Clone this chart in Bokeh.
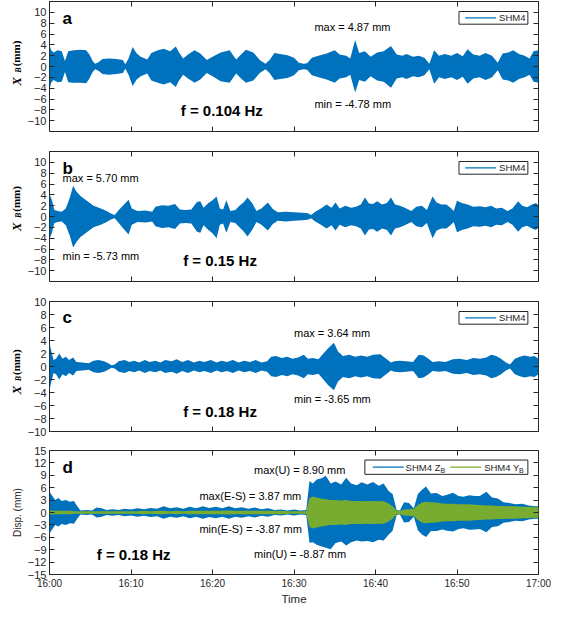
import math
from bokeh.plotting import figure
from bokeh.models import (Range1d, LinearAxis, FixedTicker, Label, BoxAnnotation,
                          ColumnDataSource, CustomJSTickFormatter)
from bokeh.layouts import column, row
from bokeh.embed import file_html
from bokeh.resources import INLINE

# ---------------- data ----------------
X_TICKS = [0, 10, 20, 30, 40, 50, 60]            # minutes after 16:00
X_TICK_LABELS = ["16:00", "16:10", "16:20", "16:30", "16:40", "16:50", "17:00"]
Y_TICKS_ABC = [-10, -8, -6, -4, -2, 0, 2, 4, 6, 8, 10]
Y_TICKS_D = [-15, -12, -9, -6, -3, 0, 3, 6, 9, 12, 15]

# panel a : envelope of SHM4 displacement (mm), f = 0.104 Hz
A_T = [0.0, 0.2, 0.5, 1.0, 1.5, 1.9, 2.3, 3.0, 3.8, 4.5,
       4.9, 5.3, 5.6, 6.0, 6.5, 7.3, 8.2, 9.0, 9.3, 9.7,
       10.2, 10.7, 11.2, 12.0, 12.5, 13.3, 14.0, 14.8, 15.5, 15.8,
       16.4, 17.0, 17.8, 18.5, 19.3, 20.0, 21.0, 22.1, 22.9, 23.5,
       24.1, 25.0, 25.8, 26.5, 27.0, 27.6, 28.3, 29.2, 30.0, 30.6,
       31.2, 31.6, 32.2, 33.0, 34.0, 35.0, 35.6, 36.4, 36.9, 37.5,
       38.0, 38.7, 39.4, 40.2, 41.0, 41.9, 42.6, 43.3, 43.8, 44.6,
       45.3, 46.0, 46.6, 47.2, 47.8, 48.5, 49.3, 50.0, 50.7, 51.3,
       52.0, 52.8, 53.5, 54.3, 55.0, 55.6, 56.3, 56.9, 57.6, 58.3,
       58.9, 59.4, 60.0]
A_UP = [4.0, 3.0, 2.6, 3.0, 2.8, 1.0, 2.8, 3.0, 3.1, 3.0,
        2.2, 1.0, 0.5, 0.8, 1.4, 1.5, 1.4, 1.2, 0.4, 1.5,
        3.6, 2.4, 1.8, 1.3, 2.5, 3.0, 3.3, 2.8, 3.7, 2.8,
        1.5, 2.2, 3.0, 2.4, 1.2, 1.8, 2.6, 3.0, 1.3, 2.2,
        3.1, 2.6, 1.2, 0.5, 1.2, 2.5, 2.3, 2.1, 1.6, 0.7,
        0.5, 0.6, 1.6, 2.0, 2.4, 3.0, 2.2, 2.0, 1.5, 4.87,
        2.5, 2.8, 1.8, 2.6, 2.8, 3.8, 2.2, 2.0, 2.3, 1.8,
        2.0, 1.6, 0.5, 3.0, 2.0, 2.3, 2.0, 2.5, 1.9, 3.2,
        2.2, 2.0, 2.5, 2.0, 0.7, 2.4, 2.6, 3.0, 2.3, 2.0,
        1.5, 2.8, 3.0]
A_LO = [-4.3, -3.0, -2.5, -2.9, -2.8, -1.0, -2.9, -3.0, -3.0, -3.1,
        -2.2, -1.0, -0.5, -0.8, -1.4, -1.5, -1.4, -1.2, -0.4, -1.5,
        -3.6, -2.4, -1.8, -1.3, -2.6, -3.0, -3.3, -2.9, -3.8, -2.8,
        -1.5, -2.2, -3.0, -2.4, -1.2, -1.8, -2.7, -3.0, -1.3, -2.2,
        -3.0, -2.6, -1.2, -0.5, -1.2, -2.5, -2.3, -2.1, -1.6, -0.7,
        -0.5, -0.6, -1.6, -2.0, -2.4, -3.0, -2.2, -2.0, -1.5, -4.78,
        -2.5, -2.8, -1.8, -2.6, -2.8, -3.9, -2.2, -2.0, -2.3, -1.8,
        -2.0, -1.6, -0.5, -3.2, -2.0, -2.3, -2.0, -2.5, -1.9, -3.2,
        -2.2, -2.0, -2.5, -2.0, -0.7, -2.4, -2.6, -3.0, -2.3, -2.0,
        -1.5, -2.8, -3.0]

# panel b : f = 0.15 Hz
B_T = [0.0, 0.3, 0.6, 1.0, 1.5, 2.0, 2.5, 2.9, 3.3, 3.8,
       4.5, 5.4, 6.3, 7.0, 7.6, 8.0, 8.5, 9.0, 9.7, 10.1,
       10.8, 11.8, 12.6, 13.0, 13.8, 14.6, 15.4, 16.0, 16.7, 17.4,
       18.1, 18.5, 18.9, 19.5, 20.0, 20.5, 20.9, 21.3, 21.7, 22.2,
       22.8, 23.3, 23.8, 24.3, 24.9, 25.4, 26.0, 26.8, 27.4, 28.0,
       29.0, 30.0, 31.0, 31.7, 32.1, 32.6, 33.3, 34.0, 34.6, 35.1,
       35.6, 36.3, 37.0, 37.6, 38.2, 38.7, 39.2, 39.7, 40.2, 40.8,
       41.4, 41.9, 42.4, 43.0, 43.6, 44.4, 45.0, 45.7, 46.3, 47.0,
       47.5, 48.1, 48.7, 49.2, 49.6, 50.0, 50.6, 51.3, 52.0, 52.8,
       53.5, 54.2, 54.8, 55.5, 56.2, 56.8, 57.5, 58.0, 58.6, 59.2,
       59.7, 60.0]
B_UP = [4.2, 3.0, 1.2, 1.0, 0.9, 1.5, 3.5, 5.7, 4.6, 3.8,
        3.0, 2.0, 1.5, 1.0, 0.5, 0.3, 1.2, 2.0, 3.1, 1.5,
        1.0, 1.1, 0.9, 1.8, 2.1, 2.0, 2.3, 1.3, 1.2, 1.3,
        2.7, 2.8, 1.6, 2.5, 3.0, 3.7, 1.5, 1.3, 3.0, 1.0,
        1.2, 2.0, 2.6, 3.5, 2.4, 1.0, 1.5, 2.6, 1.4, 0.8,
        0.9, 0.8, 0.7, 0.6, 0.3, 0.9, 1.5, 2.2, 1.6, 2.6,
        1.5, 2.0, 1.6, 1.8, 2.2, 3.5, 2.4, 2.3, 2.8, 2.2,
        2.5, 3.5, 2.2, 2.0, 1.6, 1.0, 1.8, 2.0, 1.2, 3.7,
        2.6, 2.2, 2.2, 1.6, 1.0, 2.9, 2.5, 2.2, 1.8, 1.9,
        1.7, 2.0, 1.5, 1.6, 1.0, 1.5, 2.8, 2.0, 1.7, 2.2,
        2.5, 2.0]
B_LO = [-4.2, -3.0, -1.2, -1.0, -0.9, -1.6, -3.6, -5.73, -4.7, -3.8,
        -3.0, -2.0, -1.5, -1.0, -0.5, -0.3, -1.2, -2.1, -3.3, -1.5,
        -1.0, -1.1, -0.9, -1.8, -2.1, -2.0, -2.3, -1.3, -1.2, -1.3,
        -2.8, -3.0, -1.6, -2.5, -3.1, -4.0, -1.5, -1.3, -3.0, -1.0,
        -1.2, -2.0, -2.7, -3.7, -2.4, -1.0, -1.5, -2.6, -1.4, -0.8,
        -0.9, -0.8, -0.7, -0.6, -0.3, -0.9, -1.5, -2.2, -1.6, -2.6,
        -1.5, -2.0, -1.6, -1.8, -2.2, -3.5, -2.4, -2.3, -2.8, -2.2,
        -2.5, -3.5, -2.2, -2.0, -1.6, -1.0, -1.8, -2.0, -1.2, -4.0,
        -2.6, -2.2, -2.2, -1.6, -1.0, -2.9, -2.5, -2.2, -1.8, -1.9,
        -1.7, -2.0, -1.5, -1.6, -1.0, -1.5, -2.8, -2.0, -1.7, -2.2,
        -2.5, -2.0]

# panel c : f = 0.18 Hz
C_T = [0.0, 0.2, 0.5, 0.8, 1.2, 1.6, 2.0, 2.4, 2.9, 3.3,
       4.0, 4.8, 5.4, 6.0, 6.7, 7.2, 7.6, 8.0, 8.5, 9.2,
       9.8, 10.4, 11.0, 11.7, 12.3, 13.0, 13.6, 14.2, 15.0, 15.6,
       16.3, 17.0, 17.7, 18.4, 19.0, 19.8, 20.5, 21.1, 21.8, 22.5,
       23.2, 23.9, 24.6, 25.3, 26.0, 26.7, 27.2, 27.8, 28.5, 29.2,
       29.8, 30.5, 31.2, 31.7, 32.3, 33.0, 33.6, 34.2, 34.9, 35.4,
       36.0, 36.8, 37.5, 38.2, 39.0, 39.7, 40.6, 41.3, 41.9, 42.3,
       43.0, 43.8, 44.6, 45.3, 45.9, 46.5, 47.0, 47.8, 48.6, 49.5,
       50.3, 51.2, 52.0, 52.8, 53.6, 54.2, 54.8, 55.4, 56.0, 56.5,
       57.1, 57.7, 58.3, 59.0, 59.5, 60.0]
C_UP = [3.5, 2.5, 1.0, 1.2, 2.0, 1.2, 1.5, 1.0, 1.4, 0.7,
        0.6, 0.5, 0.9, 1.0, 0.8, 0.5, 0.2, 0.3, 0.8, 1.0,
        0.7, 0.9, 0.6, 1.0, 0.7, 0.9, 0.6, 1.0, 0.8, 1.1,
        0.7, 1.0, 0.6, 0.9, 0.7, 1.0, 0.6, 0.9, 0.7, 1.0,
        0.6, 0.9, 0.7, 1.0, 0.6, 0.8, 1.5, 1.6, 1.3, 1.5,
        1.2, 1.4, 1.8, 1.2, 1.3, 1.1, 2.0, 2.8, 3.64, 2.3,
        1.6, 1.8, 1.5, 1.7, 1.5, 1.8, 1.9, 1.2, 0.6, 0.8,
        0.9, 0.8, 0.7, 1.8, 1.7, 1.2, 0.7, 0.8, 0.7, 1.1,
        1.2, 1.0, 1.3, 1.2, 1.4, 1.8, 1.6, 1.2, 0.6, 0.3,
        1.2, 1.5, 1.7, 1.5, 1.6, 1.2]
C_LO = [-3.6, -2.5, -1.0, -1.2, -2.0, -1.2, -1.5, -1.0, -1.4, -0.7,
        -0.6, -0.5, -0.9, -1.0, -0.8, -0.5, -0.2, -0.3, -0.8, -1.0,
        -0.7, -0.9, -0.6, -1.0, -0.7, -0.9, -0.6, -1.0, -0.8, -1.1,
        -0.7, -1.0, -0.6, -0.9, -0.7, -1.0, -0.6, -0.9, -0.7, -1.0,
        -0.6, -0.9, -0.7, -1.0, -0.6, -0.8, -1.5, -1.6, -1.3, -1.5,
        -1.2, -1.4, -1.8, -1.2, -1.3, -1.1, -2.0, -2.9, -3.65, -2.3,
        -1.6, -1.8, -1.5, -1.7, -1.5, -1.8, -1.9, -1.2, -0.6, -0.8,
        -0.9, -0.8, -0.7, -1.8, -1.7, -1.2, -0.7, -0.8, -0.7, -1.1,
        -1.2, -1.0, -1.3, -1.2, -1.4, -1.8, -1.6, -1.2, -0.6, -0.3,
        -1.2, -1.5, -1.7, -1.5, -1.6, -1.2]

# panel d : SHM4 Z_B (blue) and SHM4 Y_B (green), f = 0.18 Hz
D_T = [0.0, 0.3, 0.7, 1.1, 1.5, 2.0, 2.5, 3.0, 3.4, 3.8,
       4.5, 5.2, 5.8, 6.4, 7.0, 7.7, 8.5, 9.2, 10.0, 10.8,
       11.6, 12.4, 13.2, 14.0, 14.8, 15.6, 16.4, 17.2, 18.0, 18.8,
       19.6, 20.4, 21.2, 22.0, 22.8, 23.6, 24.4, 25.2, 26.0, 26.8,
       27.6, 28.4, 29.2, 30.0, 30.8, 31.5, 31.9, 32.3, 32.8, 33.4,
       33.9, 34.5, 35.1, 35.8, 36.4, 37.0, 37.7, 38.3, 39.0, 39.7,
       40.4, 41.0, 41.6, 42.1, 42.6, 43.0, 43.5, 44.1, 44.7, 45.2,
       45.7, 46.2, 46.8, 47.5, 48.2, 48.8, 49.5, 50.2, 50.8, 51.5,
       52.2, 52.8, 53.6, 54.3, 55.0, 55.7, 56.4, 57.2, 58.0, 58.8,
       59.5, 60.0]
D_Z_UP = [5.0, 4.2, 3.0, 3.5, 2.8, 3.0, 2.6, 2.8, 1.5, 0.5,
          0.6, 0.5, 1.2, 1.0, 0.6, 0.8, 0.6, 0.9, 0.7, 1.0,
          0.8, 1.1, 0.9, 1.5, 1.0, 1.3, 0.9, 1.4, 1.0, 1.5,
          1.1, 1.4, 1.0, 1.5, 1.0, 1.3, 0.9, 1.2, 0.8, 1.0,
          0.6, 0.7, 0.5, 0.7, 0.5, 0.6, 7.6, 7.0, 8.0, 8.3,
          8.9, 7.0, 7.5, 6.8, 8.4, 7.0, 6.6, 7.3, 6.8, 7.4,
          6.5, 7.0, 5.2, 4.5, 0.6, 0.5, 2.5, 2.3, 1.0, 4.5,
          5.5, 6.3, 4.6, 4.7, 4.0, 4.3, 4.8, 4.0, 3.8, 4.2,
          4.0, 4.0, 5.0, 3.6, 3.4, 2.5, 2.3, 2.0, 2.1, 1.7,
          1.5, 1.5]
D_Z_LO = [-5.1, -4.2, -3.0, -3.4, -2.8, -3.0, -2.6, -2.7, -1.5, -0.5,
          -0.6, -0.5, -1.2, -1.0, -0.6, -0.8, -0.6, -0.9, -0.7, -1.0,
          -0.8, -1.1, -0.9, -1.5, -1.0, -1.3, -0.9, -1.4, -1.0, -1.5,
          -1.1, -1.4, -1.0, -1.5, -1.0, -1.3, -0.9, -1.2, -0.8, -1.0,
          -0.6, -0.7, -0.5, -0.7, -0.5, -0.6, -7.3, -7.2, -7.8, -8.2,
          -8.5, -8.87, -7.4, -7.0, -8.0, -7.2, -6.8, -7.0, -6.9, -7.2,
          -6.6, -6.8, -5.4, -4.4, -0.6, -0.5, -2.4, -2.3, -1.0, -4.3,
          -5.3, -5.9, -4.5, -4.5, -4.1, -4.4, -4.6, -4.0, -3.8, -4.2,
          -4.1, -4.0, -4.8, -3.5, -3.3, -2.5, -2.3, -2.0, -2.1, -1.7,
          -1.5, -1.5]
D_Y_UP = [0.5, 0.5, 0.4, 0.4, 0.4, 0.4, 0.4, 0.3, 0.3, 0.3,
          0.3, 0.3, 0.3, 0.3, 0.3, 0.3, 0.3, 0.3, 0.3, 0.3,
          0.4, 0.3, 0.4, 0.4, 0.3, 0.4, 0.3, 0.4, 0.4, 0.4,
          0.4, 0.4, 0.4, 0.5, 0.4, 0.4, 0.4, 0.4, 0.4, 0.4,
          0.4, 0.4, 0.3, 0.3, 0.3, 0.3, 3.5, 3.87, 3.6, 3.3,
          3.2, 3.0, 3.0, 2.9, 3.0, 2.8, 2.8, 2.8, 2.7, 2.8,
          2.7, 2.7, 2.2, 1.5, 0.5, 0.4, 0.7, 0.8, 0.9, 1.8,
          2.4, 2.6, 2.5, 2.4, 2.2, 2.1, 2.1, 2.0, 2.0, 2.0,
          1.9, 1.8, 1.7, 1.7, 1.6, 1.6, 1.5, 1.5, 1.4, 1.4,
          1.3, 1.3]
D_Y_LO = [-0.5, -0.5, -0.4, -0.4, -0.4, -0.4, -0.4, -0.3, -0.3, -0.3,
          -0.3, -0.3, -0.3, -0.3, -0.3, -0.3, -0.3, -0.3, -0.3, -0.3,
          -0.4, -0.3, -0.4, -0.4, -0.3, -0.4, -0.3, -0.4, -0.4, -0.4,
          -0.4, -0.4, -0.4, -0.5, -0.4, -0.4, -0.4, -0.4, -0.4, -0.4,
          -0.4, -0.4, -0.3, -0.3, -0.3, -0.3, -3.5, -3.87, -3.6, -3.4,
          -3.2, -3.0, -3.0, -2.9, -3.0, -2.8, -2.8, -2.8, -2.7, -2.8,
          -2.7, -2.7, -2.2, -1.5, -0.5, -0.4, -0.7, -0.8, -0.9, -1.8,
          -2.4, -2.6, -2.5, -2.4, -2.2, -2.1, -2.1, -2.0, -2.0, -2.0,
          -1.9, -1.8, -1.7, -1.7, -1.6, -1.6, -1.5, -1.5, -1.4, -1.4,
          -1.3, -1.3]

PANEL_LETTERS = ["a", "b", "c", "d"]
FREQ_TEXT = ["f = 0.104 Hz", "f = 0.15 Hz", "f = 0.18 Hz", "f = 0.18 Hz"]
MAX_TEXT = ["max =  4.87 mm", "max =  5.70 mm", "max =  3.64 mm"]
MIN_TEXT = ["min = -4.78 mm", "min = -5.73 mm", "min = -3.65 mm"]
D_TEXT = ["max(U) =  8.90 mm", "max(E-S) =  3.87 mm", "min(E-S) = -3.87 mm", "min(U) = -8.87 mm"]

# ---------------- styling / layout ----------------
BLUE = "#0072BD"
GREEN = "#77AC30"
AX = "#262626"
SANS = "Liberation Sans"
SERIF = "Liberation Serif"
W = 551          # total width of one row
LW = 24          # width of the strip that carries the y-axis title
ML, MR = 46, 13  # distance of the frame from the row's left / right edge
PW = W - LW
FW = W - ML - MR
FH = 130


def blank():
    return CustomJSTickFormatter(code="return ''")


def style_axis(ax):
    ax.axis_line_color = None
    ax.major_tick_in = 5
    ax.major_tick_out = 0
    ax.minor_tick_line_color = None
    ax.major_tick_line_color = AX
    ax.major_tick_line_width = 1
    ax.major_label_text_font = SANS
    ax.major_label_text_color = AX


def panel(ylo, yhi, yticks, top, bottom, xlabels):
    p = figure(width=PW, height=top + FH + bottom,
               x_range=Range1d(0, 60), y_range=Range1d(ylo, yhi),
               output_backend="svg", toolbar_location=None,
               x_axis_location=None, y_axis_location=None,
               min_border_left=ML - LW, min_border_right=MR,
               min_border_top=top, min_border_bottom=bottom)
    p.grid.grid_line_color = None
    p.outline_line_color = AX
    p.outline_line_width = 1
    p.outline_line_alpha = 1

    ly = LinearAxis(ticker=FixedTicker(ticks=yticks))
    style_axis(ly)
    ly.major_label_text_font_size = "11px"
    ly.major_label_standoff = 3
    p.add_layout(ly, "left")

    ry = LinearAxis(ticker=FixedTicker(ticks=yticks), formatter=blank())
    style_axis(ry)
    ry.major_label_text_font_size = "0px"
    ry.major_label_standoff = 0
    p.add_layout(ry, "right")

    tx = LinearAxis(ticker=FixedTicker(ticks=X_TICKS), formatter=blank())
    style_axis(tx)
    tx.major_label_text_font_size = "0px"
    tx.major_label_standoff = 0
    p.add_layout(tx, "above")

    bx = LinearAxis(ticker=FixedTicker(ticks=X_TICKS))
    style_axis(bx)
    if xlabels:
        bx.major_label_overrides = dict(zip(X_TICKS, X_TICK_LABELS))
        bx.major_label_text_font_size = "10px"
        bx.major_label_standoff = 3
    else:
        bx.formatter = blank()
        bx.major_label_text_font_size = "0px"
        bx.major_label_standoff = 0
    p.add_layout(bx, "below")
    return p, bx


def strip(ylo, yhi, top, bottom):
    """narrow figure to the left of a panel, carrying the vertical axis title"""
    s = figure(width=LW, height=top + FH + bottom,
               x_range=Range1d(0, LW), y_range=Range1d(ylo, yhi),
               output_backend="svg", toolbar_location=None,
               x_axis_location=None, y_axis_location=None,
               min_border_left=0, min_border_right=0,
               min_border_top=top, min_border_bottom=bottom)
    s.grid.grid_line_color = None
    s.outline_line_color = None
    return s


def txt(p, x, y, s, size, style="normal", align="left", baseline="middle",
        font=SANS, color="black", angle=0.0):
    p.add_layout(Label(x=x, y=y, text=s, text_font=font, text_font_size=size,
                       text_font_style=style, text_color=color,
                       text_align=align, text_baseline=baseline, angle=angle))


def scales(p):
    ylo, yhi = p.y_range.start, p.y_range.end
    return 60.0 / FW, (yhi - ylo) / FH, ylo, yhi


def legend(p, box_w, box_h, entries):
    dx, dy, ylo, yhi = scales(p)
    right = 60 - 10.7 * dx
    top = yhi - 10 * dy
    left = right - box_w * dx
    bottom = top - box_h * dy
    p.add_layout(BoxAnnotation(left=left, right=right, top=top, bottom=bottom,
                               fill_color="white", fill_alpha=1.0,
                               line_color=AX, line_width=1, line_alpha=1.0))
    ym = (top + bottom) / 2
    for color, line_px, text_px, label, sub_px in entries:
        p.add_layout(BoxAnnotation(left=left + line_px * dx, right=left + (line_px + 31) * dx,
                                   top=ym + 0.7 * dy, bottom=ym - 0.7 * dy,
                                   fill_color=color, fill_alpha=1.0, line_color=None))
        txt(p, left + text_px * dx, ym, label, "9.5px", color=AX)
        if sub_px:
            txt(p, left + (text_px + sub_px) * dx, ym - 3 * dy, "B", "7px", color=AX)


def ylabel_xb(s, center_off_px):
    """X_B (mm) written bottom-to-top; strip x coordinates are pixels from the strip's left"""
    ylo, yhi = s.y_range.start, s.y_range.end
    dy = (yhi - ylo) / FH
    yc = (ylo + yhi) / 2 - center_off_px * dy
    txt(s, 16.4, yc - 16 * dy, "X", "13px", style="bold italic", align="center",
        baseline="alphabetic", font=SERIF, angle=math.pi / 2)
    txt(s, 17.5, yc - 4.5 * dy, "B", "8px", style="bold italic", align="center",
        baseline="alphabetic", font=SERIF, angle=math.pi / 2)
    txt(s, 15.5, yc + 12.0 * dy, "(mm)", "11px", style="bold", align="center",
        baseline="alphabetic", font=SERIF, angle=math.pi / 2)


def band(p, t, lo, up, color):
    src = ColumnDataSource(dict(t=t, lo=lo, up=up))
    p.varea(x="t", y1="lo", y2="up", source=src, fill_color=color, fill_alpha=1.0)


LETTER = "17px"

# ---- panel a ----
pa, _ = panel(-12, 12, Y_TICKS_ABC, 1, 10, False)
sa = strip(-12, 12, 1, 10)
band(pa, A_T, A_LO, A_UP, BLUE)
legend(pa, 69.3, 12.7, [(BLUE, 6.3, 40.3, "SHM4", None)])
txt(pa, 1.6, 8.9, PANEL_LETTERS[0], LETTER, style="bold", baseline="alphabetic")
txt(pa, 32.5, 7.25, MAX_TEXT[0], "11px")
txt(pa, 32.5, -6.9, MIN_TEXT[0], "11px")
txt(pa, 16.1, -8.07, FREQ_TEXT[0], "15px", style="bold")
ylabel_xb(sa, -1)

# ---- panel b ----
pb, _ = panel(-12, 12, Y_TICKS_ABC, 10, 10, False)
sb = strip(-12, 12, 10, 10)
band(pb, B_T, B_LO, B_UP, BLUE)
legend(pb, 69.3, 12.7, [(BLUE, 6.3, 40.3, "SHM4", None)])
txt(pb, 1.6, 8.9, PANEL_LETTERS[1], LETTER, style="bold", baseline="alphabetic")
txt(pb, 1.6, 7.1, MAX_TEXT[1], "11px")
txt(pb, 1.6, -7.27, MIN_TEXT[1], "11px")
txt(pb, 16.4, -8.1, FREQ_TEXT[1], "15px", style="bold")
ylabel_xb(sb, -5.6)

# ---- panel c ----
pc, _ = panel(-10, 10, Y_TICKS_ABC, 10, 10, False)
sc = strip(-10, 10, 10, 10)
band(pc, C_T, C_LO, C_UP, BLUE)
legend(pc, 69.3, 12.7, [(BLUE, 6.3, 40.3, "SHM4", None)])
txt(pc, 1.6, 7.5, PANEL_LETTERS[2], LETTER, style="bold", baseline="alphabetic")
txt(pc, 30.0, 5.15, MAX_TEXT[2], "11px")
txt(pc, 30.0, -4.95, MIN_TEXT[2], "11px")
txt(pc, 16.4, -6.85, FREQ_TEXT[2], "15px", style="bold")
ylabel_xb(sc, 7.7)

# ---- panel d ----
pd_, bx_d = panel(-15, 15, Y_TICKS_D, 9, 27, True)
sd = strip(-15, 15, 9, 27)
band(pd_, D_T, D_Z_LO, D_Z_UP, BLUE)
band(pd_, D_T, D_Y_LO, D_Y_UP, GREEN)
legend(pd_, 164, 15, [(BLUE, 8, 41, "SHM4 Z", 35), (GREEN, 86, 120, "SHM4 Y", 35)])
txt(pd_, 1.6, 11.0, PANEL_LETTERS[3], LETTER, style="bold", baseline="alphabetic")
txt(pd_, 25.1, 10.2, D_TEXT[0], "11px")
txt(pd_, 18.4, 4.1, D_TEXT[1], "11px")
txt(pd_, 18.4, -4.0, D_TEXT[2], "11px")
txt(pd_, 25.1, -10.0, D_TEXT[3], "11px")
txt(pd_, 5.8, -10.1, FREQ_TEXT[3], "15px", style="bold")
txt(sd, 17.0, 0.0, "Disp. (mm)", "10px", align="center", baseline="alphabetic",
    color=AX, angle=math.pi / 2)
bx_d.axis_label = "Time"
bx_d.axis_label_text_font = SANS
bx_d.axis_label_text_font_style = "normal"
bx_d.axis_label_text_font_size = "11.5px"
bx_d.axis_label_text_color = AX
bx_d.axis_label_standoff = 1

layout = column(row(sa, pa, spacing=0), row(sb, pb, spacing=0),
                row(sc, pc, spacing=0), row(sd, pd_, spacing=0), spacing=0)
open("out.html", "w").write(file_html(layout, INLINE))
